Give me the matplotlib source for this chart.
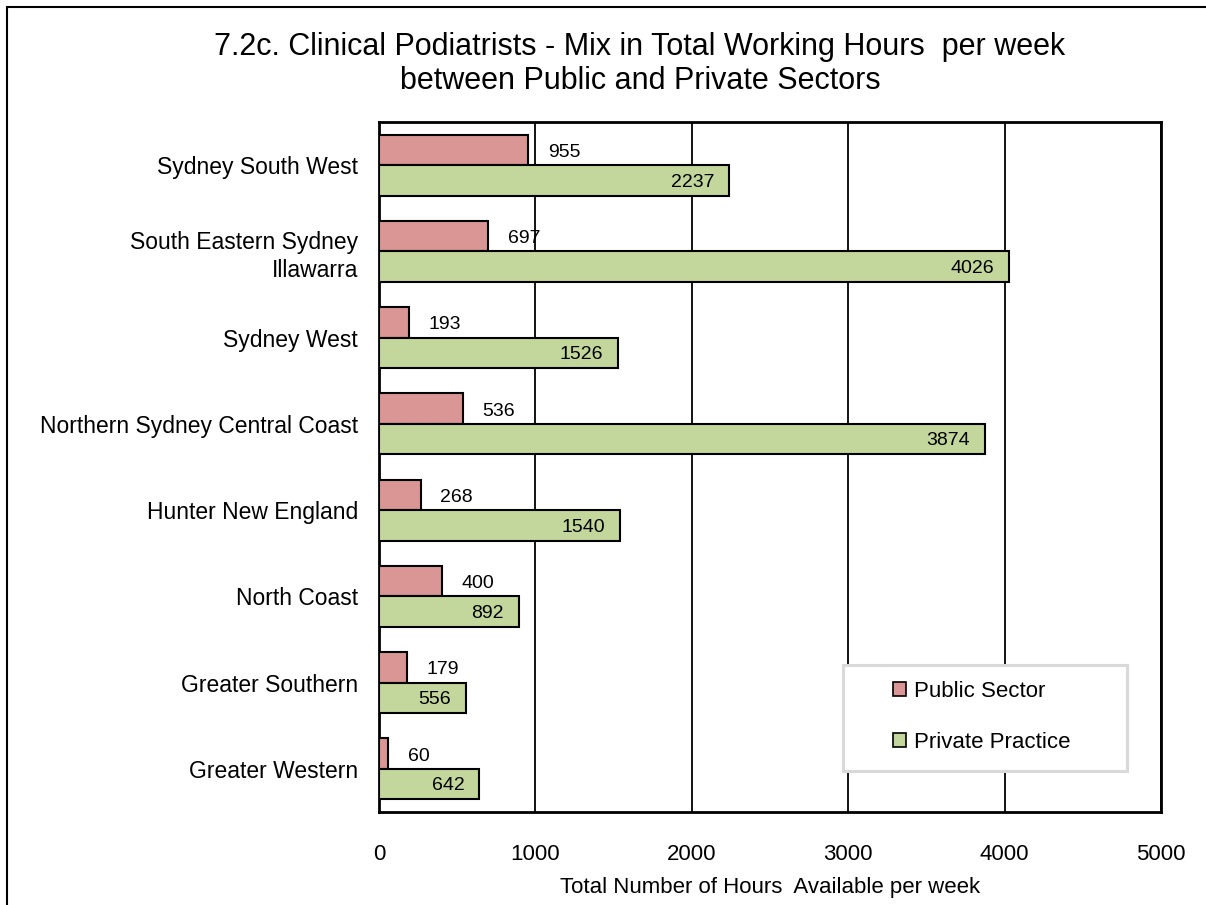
import matplotlib.pyplot as plt
import numpy as np
from matplotlib.patches import Rectangle

plt.rcParams['font.family'] = ['Liberation Sans', 'DejaVu Sans']

regions = ["Sydney South West", "South Eastern Sydney\nIllawarra", "Sydney West",
           "Northern Sydney Central Coast", "Hunter New England", "North Coast",
           "Greater Southern", "Greater Western"]
public = [955, 697, 193, 536, 268, 400, 179, 60]
private = [2237, 4026, 1526, 3874, 1540, 892, 556, 642]
xticks = [0, 1000, 2000, 3000, 4000, 5000]

red = '#d99694'
green = '#c3d69b'

fig = plt.figure(figsize=(12.06, 9.05), dpi=100)
ax = fig.add_axes([379/1206, 1-812/905, (1161-379)/1206, (812-122)/905])

# outer chart border (clipped on the right and bottom like the original)
fig.patches.append(Rectangle((7/1206, -0.05), 1.2, 1-7/905+0.05, transform=fig.transFigure,
                             fill=False, edgecolor='black', linewidth=1.5))

y = np.arange(len(regions))
h = 0.355
ax.barh(y - h/2, public, height=h, color=red, edgecolor='black', linewidth=1.5,
        label='Public Sector', zorder=3)
ax.barh(y + h/2, private, height=h, color=green, edgecolor='black', linewidth=1.5,
        label='Private Practice', zorder=3)

for i in range(len(regions)):
    ax.text(public[i] + 125, y[i] - h/2 + 0.03, str(public[i]), va='center', ha='left', fontsize=14, zorder=4)
    ax.text(private[i] - 95, y[i] + h/2 + 0.02, str(private[i]), va='center', ha='right', fontsize=14, zorder=4)

ax.set_xlim(0, 5000)
ax.set_ylim(len(regions) - 0.5, -0.5)
ax.set_xticks(xticks)
ax.set_xticklabels([str(t) for t in xticks], fontsize=16)
ax.set_yticks(y)
ax.set_yticklabels(regions, fontsize=16.5, linespacing=1.3)
ax.tick_params(length=0)
ax.tick_params(axis='y', pad=15)
ax.tick_params(axis='x', pad=23)
ax.xaxis.grid(True, color='black', linewidth=1.3, zorder=0)
ax.set_axisbelow(True)
for s in ax.spines.values():
    s.set_linewidth(2)
ax.set_xlabel("Total Number of Hours  Available per week", fontsize=16, labelpad=9)

fig.text(640/1206, 1-64/905, "7.2c. Clinical Podiatrists - Mix in Total Working Hours  per week\nbetween Public and Private Sectors",
         ha='center', va='center', fontsize=22, linespacing=1.2)

# legend box drawn separately so its size matches the original
ax.add_patch(Rectangle(((843-379)/782, 1-(771-122)/690), 284/782, 106/690, transform=ax.transAxes,
                       facecolor='white', edgecolor='#d9d9d9', linewidth=2.2, zorder=5))
leg = ax.legend(loc='upper left', bbox_to_anchor=((893-379)/782, 1-(681-122)/690),
                fontsize=16, frameon=False, handlelength=0.6, handleheight=0.6,
                handletextpad=0.35, borderpad=0, labelspacing=1.35, borderaxespad=0)
leg.set_zorder(6)
for p in leg.get_patches():
    p.set_linewidth(1.2)

fig.savefig('out.png', dpi=100)
